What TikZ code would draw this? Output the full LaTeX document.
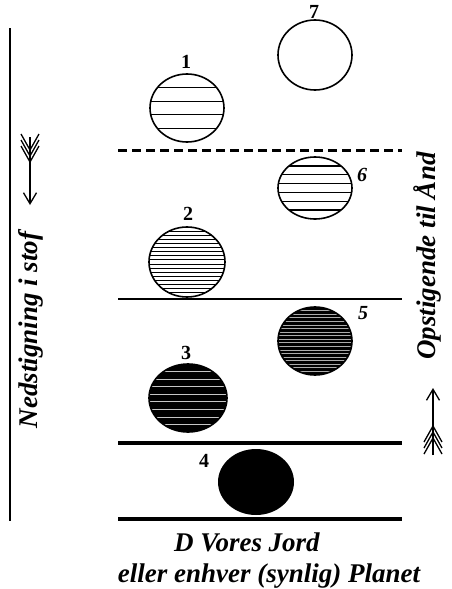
\documentclass[tikz,border=0pt]{standalone}
\usepackage{fontspec}
\setmainfont{Liberation Serif}
\usetikzlibrary{arrows.meta}

% ball with horizontal stripes: cx, cy, rx, ry, stripes, fill, stripe colour, stripe width
\newcommand{\stripeball}[8]{%
\begin{scope}
\clip (#1,#2) ellipse [x radius=#3, y radius=#4];
\fill[#6] (#1,#2) ellipse [x radius=#3, y radius=#4];
\foreach \k in {1,...,#5}{
\pgfmathsetmacro\yy{#2-#4+2*#4*\k/(#5+1)}
\draw[#7,line width=#8] (#1-#3,\yy)--(#1+#3,\yy);}
\end{scope}
\draw[line width=1.6pt] (#1,#2) ellipse [x radius=#3, y radius=#4];}

\tikzset{
num/.style={font=\bfseries\fontsize{20}{20}\selectfont},
inum/.style={font=\bfseries\itshape\fontsize{20}{20}\selectfont},
side/.style={font=\bfseries\itshape\fontsize{27}{30}\selectfont},
big/.style={font=\bfseries\itshape\fontsize{27}{30}\selectfont},
feather/.style={line width=1.3pt},
}

\begin{document}
\begin{tikzpicture}[x=1pt,y=-1pt,line cap=butt]
\useasboundingbox (0,0) rectangle (452,589);
% side line
\coordinate (top) at (10,28);
\coordinate (bot) at (10,521);
\draw[line width=1.8pt] (top)--(bot);
% levels
\coordinate (l1) at (118,150); \coordinate (r1) at (402,150);
\coordinate (l2) at (118,299); \coordinate (r2) at (402,299);
\coordinate (l3) at (118,443); \coordinate (r3) at (402,443);
\coordinate (l4) at (118,519); \coordinate (r4) at (402,519);
\draw[line width=3pt,dash pattern=on 9pt off 5pt] (l1)--(r1);
\draw[line width=1.8pt] (l2)--(r2);
\draw[line width=4pt] (l3)--(r3);
\draw[line width=4.5pt] (l4)--(r4);
% balls
\draw[line width=1.6pt] (315,55) ellipse [x radius=37, y radius=35];
\stripeball{187}{108}{37}{34}{4}{white}{black}{1.3pt}
\stripeball{315}{188}{37}{31}{6}{white}{black}{1.3pt}
\stripeball{187}{262}{38}{35}{16}{white}{black}{1pt}
\stripeball{315}{341}{37}{34}{18}{black}{gray!65}{0.7pt}
\stripeball{188}{398}{39}{34}{8}{black}{gray!45}{0.7pt}
\fill (256,482) ellipse [x radius=38, y radius=33];
% numbers
\node[num] (n1) at (186,62) {1};
\node[num] (n7) at (314,12) {7};
\node[inum] (n6) at (362,175) {6};
\node[num] (n2) at (188,214) {2};
\node[inum] (n5) at (363,313) {5};
\node[num] (n3) at (186,353) {3};
\node[num] (n4) at (204,461) {4};
% down arrow
\coordinate (dtail) at (30,137);
\coordinate (dtip) at (30,205);
\draw[feather,-{Straight Barb[length=11pt,width=13pt]}] (dtail)--(dtip);
\foreach \a in {150,156,162}
\draw[feather] (21,\a-16)--(30,\a)--(39,\a-16);
% up arrow
\coordinate (utail) at (433,455);
\coordinate (utip) at (433,388);
\draw[feather,-{Straight Barb[length=11pt,width=13pt]}] (utail)--(utip);
\foreach \a in {426,432,438}
\draw[feather] (424,\a+16)--(433,\a)--(442,\a+16);
% texts
\node[side,rotate=90] (ned) at (31,330) {Nedstigning i stof};
\node[side,rotate=90] (ops) at (427,256) {Opstigende til Ånd};
\node[big] (jord) at (247,542) {D Vores Jord};
\node[big] (planet) at (269,576) {eller enhver (synlig) Planet};
\end{tikzpicture}
\end{document}
